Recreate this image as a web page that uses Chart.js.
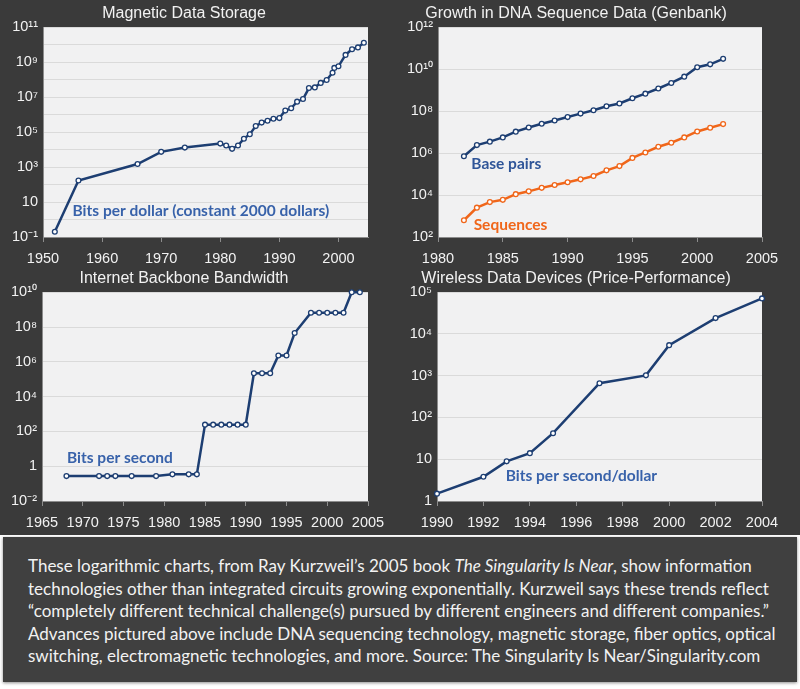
<!DOCTYPE html>
<html>
<head>
<meta charset="utf-8">
<script src="https://cdn.jsdelivr.net/npm/chart.js@4.4.1/dist/chart.umd.min.js"></script>
<style>
  html, body { margin: 0; padding: 0; background: #fff; width: 800px; height: 689px; overflow: hidden; }
  #top { position: absolute; left: 0; top: 0; width: 800px; height: 535px; background: #3a3a3a; }
  .panel { position: absolute; }
  #caption {
    position: absolute; left: 3px; top: 537px; width: 794px; height: 145px;
    background: #404040; box-shadow: 0 1px 3px rgba(0,0,0,.45);
    color: #f2f2f2; font-family: Lato, "Open Sans", sans-serif; font-size: 17px; line-height: 22.5px;
    box-sizing: border-box; padding: 18px 0 0 25px; white-space: nowrap;
  }
</style>
</head>
<body>
<div id="top"></div>
<div class="panel" style="left:0;top:0;width:380px;height:265px"><canvas id="mag"></canvas></div>
<div class="panel" style="left:390px;top:0;width:410px;height:265px"><canvas id="dna"></canvas></div>
<div class="panel" style="left:0;top:265px;width:395px;height:265px"><canvas id="net"></canvas></div>
<div class="panel" style="left:390px;top:265px;width:410px;height:265px"><canvas id="wl"></canvas></div>
<div id="caption">These logarithmic charts, from Ray Kurzweil’s 2005 book <i>The Singularity Is Near</i>, show information<br>technologies other than integrated circuits growing exponentially. Kurzweil says these trends reflect<br>“completely different technical challenge(s) pursued by different engineers and different companies.”<br>Advances pictured above include DNA sequencing technology, magnetic storage, fiber optics, optical<br>switching, electromagnetic technologies, and more. Source: The Singularity Is Near/Singularity.com</div>

<script>
// Magnetic data storage, bits per dollar
const magYears = [1952, 1956, 1966, 1970, 1974, 1980, 1981, 1982, 1983, 1984, 1985, 1986, 1987, 1988, 1989,
  1990, 1991, 1992, 1993, 1994, 1995, 1996, 1997, 1998, 1999, 1999.3, 2000, 2001.2, 2002.3, 2003.3, 2004.3];
const magBits = [0.2, 170, 1500, 7400, 13000, 22000, 17000, 11000, 17000, 42000, 76000, 220000, 350000, 450000, 580000,
  630000, 1.7e6, 2.3e6, 5.5e6, 7.8e6, 3.3e7, 3.6e7, 6.5e7, 9.5e7, 2.5e8, 4.7e8, 5.8e8, 2.6e9, 5.5e9, 7e9, 1.3e10];
const magXTicks = [1950, 1960, 1970, 1980, 1990, 2000];
const magYTicks = [0.1, 1, 10, 100, 1e3, 1e4, 1e5, 1e6, 1e7, 1e8, 1e9, 1e10, 1e11];
const magYLabels = ['10⁻¹', '', '10', '', '10³', '', '10⁵', '', '10⁷', '', '10⁹', '', '10¹¹'];

// Genbank
const dnaYears = [1982, 1983, 1984, 1985, 1986, 1987, 1988, 1989, 1990, 1991, 1992,
  1993, 1994, 1995, 1996, 1997, 1998, 1999, 2000, 2001, 2002];
const basePairs = [7.1e5, 2.4e6, 3.5e6, 5.6e6, 1.05e7, 1.66e7, 2.5e7, 3.6e7, 5.2e7, 7.6e7, 1.1e8,
  1.7e8, 2.3e8, 4.1e8, 6.8e8, 1.2e9, 2.2e9, 4.4e9, 1.23e10, 1.7e10, 3.1e10];
const sequences = [630, 2500, 4600, 5900, 11000, 15000, 22000, 30000, 41000, 56000, 81000,
  150000, 240000, 590000, 1.07e6, 2.0e6, 3.1e6, 5.6e6, 1.07e7, 1.6e7, 2.4e7];
const dnaXTicks = [1980, 1985, 1990, 1995, 2000, 2005];
const dnaYTicks = [1e2, 1e4, 1e6, 1e8, 1e10, 1e12];
const dnaYLabels = ['10²', '10⁴', '10⁶', '10⁸', '10¹⁰', '10¹²'];

// Internet backbone, bits per second
const netYears = [1968, 1972, 1973, 1974, 1976, 1979, 1981, 1983, 1984, 1985, 1986, 1987, 1988, 1989,
  1990, 1991, 1992, 1993, 1994, 1995, 1996, 1998, 1999, 2000, 2001, 2002, 2003, 2004];
const netBits = [0.27, 0.27, 0.27, 0.27, 0.27, 0.27, 0.34, 0.34, 0.34, 245, 245, 245, 245, 245,
  245, 2.2e5, 2.2e5, 2.2e5, 2.3e6, 2.3e6, 4.5e7, 6.6e8, 6.6e8, 6.6e8, 6.6e8, 6.6e8, 1e10, 1e10];
const netXTicks = [1965, 1970, 1975, 1980, 1985, 1990, 1995, 2000, 2005];
const netYTicks = [1e-2, 1, 1e2, 1e4, 1e6, 1e8, 1e10];
const netYLabels = ['10⁻²', '1', '10²', '10⁴', '10⁶', '10⁸', '10¹⁰'];

// Wireless, bits per second per dollar
const wlYears = [1990, 1992, 1993, 1994, 1995, 1997, 1999, 2000, 2002, 2004];
const wlBits = [1.5, 3.8, 8.9, 14, 42, 660, 1020, 5400, 24000, 71000];
const wlXTicks = [1990, 1992, 1994, 1996, 1998, 2000, 2002, 2004];
const wlYTicks = [1, 10, 100, 1e3, 1e4, 1e5];
const wlYLabels = ['1', '10', '10²', '10³', '10⁴', '10⁵'];

const NAVY = '#1d3e72';
const ORANGE = '#f0661a';
const TXT = '#f2f2f2';
const FONT = '"Liberation Sans", Arial, sans-serif';

function pts(xs, ys) {
  return xs.map((x, i) => ({ x: x, y: ys[i] }));
}

function series(xs, ys, color) {
  return {
    data: pts(xs, ys),
    borderColor: color,
    borderWidth: 2.5,
    pointRadius: 2.4,
    pointBorderWidth: 1.3,
    pointBackgroundColor: '#fff',
    pointBorderColor: color,
    tension: 0,
    clip: false
  };
}

// plot background + the blue/orange labels inside the plot
function panelPlugin(notes) {
  return {
    id: 'panel',
    beforeDraw(chart) {
      const a = chart.chartArea, ctx = chart.ctx;
      ctx.save();
      ctx.fillStyle = '#f1f1f2';
      ctx.fillRect(a.left, a.top, a.right - a.left, a.bottom - a.top);
      ctx.restore();
    },
    afterDatasetsDraw(chart) {
      const ctx = chart.ctx;
      ctx.save();
      ctx.font = 'bold 15.5px Lato, sans-serif';
      ctx.textBaseline = 'middle';
      ctx.textAlign = 'left';
      notes.forEach(n => {
        ctx.fillStyle = n.color;
        ctx.fillText(n.text, chart.scales.x.getPixelForValue(n.x), chart.scales.y.getPixelForValue(n.y));
      });
      ctx.restore();
    }
  };
}

function makeChart(id, o) {
  new Chart(document.getElementById(id), {
    type: 'line',
    data: { datasets: o.datasets },
    plugins: [panelPlugin(o.notes)],
    options: {
      responsive: true,
      maintainAspectRatio: false,
      animation: false,
      layout: { padding: { left: 0, right: o.padRight, top: 0, bottom: 0 } },
      plugins: {
        legend: { display: false },
        tooltip: { enabled: false },
        title: {
          display: true, text: o.title, color: TXT,
          font: { family: FONT, size: 16, weight: 'normal' },
          padding: { top: 4, bottom: 4 }
        }
      },
      scales: {
        x: {
          type: 'linear', min: o.xTicks[0], max: o.xMax,
          afterBuildTicks: s => { s.ticks = o.xTicks.map(v => ({ value: v })); },
          afterFit: s => { s.height = o.xHeight; },
          ticks: { color: TXT, font: { family: FONT, size: 14.5 }, padding: 8, maxRotation: 0, autoSkip: false,
            callback: v => String(v) },
          grid: { drawOnChartArea: false, color: '#8c8c8c', tickLength: 5 },
          border: { color: '#8c8c8c' }
        },
        y: {
          type: 'logarithmic', min: o.yTicks[0], max: o.yTicks[o.yTicks.length - 1],
          afterBuildTicks: s => { s.ticks = o.yTicks.map(v => ({ value: v })); },
          afterFit: s => { s.width = o.yWidth; },
          ticks: { color: TXT, font: { family: FONT, size: 14.5 }, padding: 5, autoSkip: false,
            callback: v => o.yLabels[o.yTicks.indexOf(v)] },
          grid: { color: '#dadada', drawTicks: false },
          border: { color: '#8c8c8c' }
        }
      }
    }
  });
}

makeChart('mag', {
  title: 'Magnetic Data Storage',
  datasets: [series(magYears, magBits, NAVY)],
  xTicks: magXTicks, xMax: 2005, yTicks: magYTicks, yLabels: magYLabels,
  yWidth: 43, xHeight: 28, padRight: 12,
  notes: [{ text: 'Bits per dollar (constant 2000 dollars)', x: 1955, y: 3.1, color: '#3862aa' }]
});

makeChart('dna', {
  title: 'Growth in DNA Sequence Data (Genbank)',
  datasets: [series(dnaYears, basePairs, NAVY), series(dnaYears, sequences, ORANGE)],
  xTicks: dnaXTicks, xMax: 2005, yTicks: dnaYTicks, yLabels: dnaYLabels,
  yWidth: 48, xHeight: 28, padRight: 38,
  notes: [
    { text: 'Base pairs', x: 1982.57, y: 2.9e5, color: '#2f5598' },
    { text: 'Sequences', x: 1982.75, y: 390, color: '#f0661a' }
  ]
});

makeChart('net', {
  title: 'Internet Backbone Bandwidth',
  datasets: [series(netYears, netBits, NAVY)],
  xTicks: netXTicks, xMax: 2005, yTicks: netYTicks, yLabels: netYLabels,
  yWidth: 42, xHeight: 29, padRight: 27,
  notes: [{ text: 'Bits per second', x: 1968.07, y: 3.0, color: '#3862aa' }]
});

makeChart('wl', {
  title: 'Wireless Data Devices (Price-Performance)',
  datasets: [series(wlYears, wlBits, NAVY)],
  xTicks: wlXTicks, xMax: 2004, yTicks: wlYTicks, yLabels: wlYLabels,
  yWidth: 47, xHeight: 29, padRight: 38,
  notes: [{ text: 'Bits per second/dollar', x: 1992.96, y: 4.0, color: '#3862aa' }]
});
</script>
</body>
</html>
